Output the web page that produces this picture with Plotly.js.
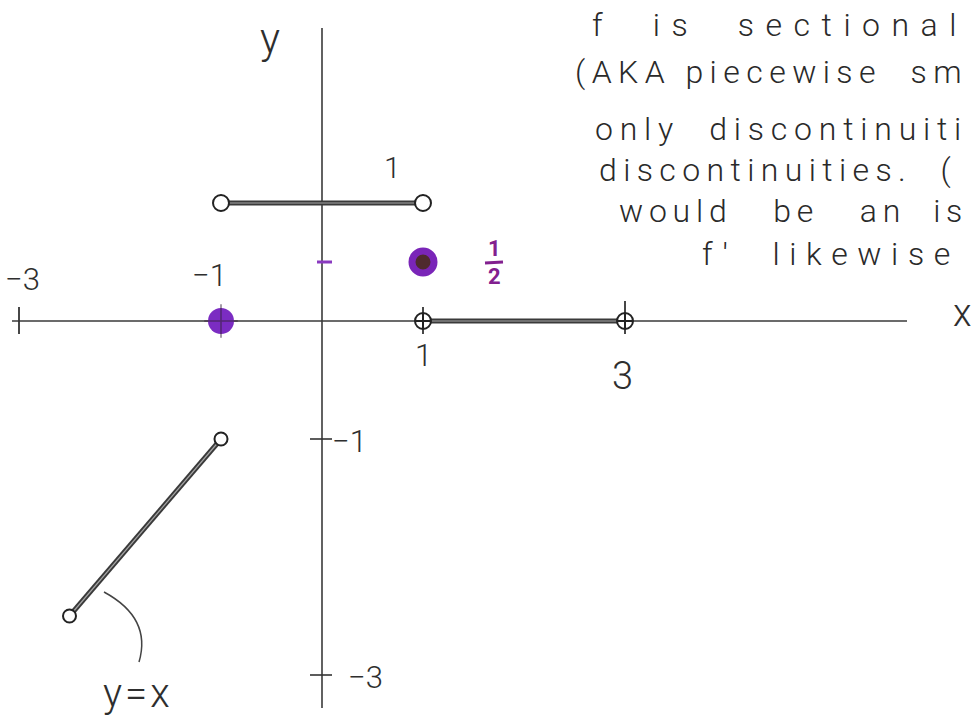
<!DOCTYPE html>
<html>
<head>
<meta charset="utf-8">
<script src="https://cdn.plot.ly/plotly-3.0.1.min.js"></script>
<style>
  html, body { margin: 0; padding: 0; background: #ffffff; }
  #chart { width: 975px; height: 723px; }
</style>
</head>
<body>
<div id="chart"></div>
<script>
// Piecewise function f: three line pieces and two isolated points.
const pieceTopX = [-1, 1];        // f = 1 on (-1, 1)
const pieceTopY = [1, 1];
const pieceRightX = [1, 3];       // f = 0 on (1, 3)
const pieceRightY = [0, 0];
const pieceLeftX = [-2.5, -1];    // f = x on (-2.5, -1)
const pieceLeftY = [-2.5, -1];
const dotX = [-1, 1];             // isolated values f(-1) = 0, f(1) = 1/2
const dotY = [0, 0.5];

const xTickVals = [-3, -1, 1, 3];
const xTickText = ['−3', '−1', '1', '3'];
const yTickVals = [-1, -3];
const yTickText = ['−1', '−3'];

const noteLines = [
  'f\u00a0\u00a0is\u00a0\u00a0sectional',
  '(AKA\u00a0piecewise\u00a0\u00a0sm',
  'only\u00a0\u00a0discontinuiti',
  'discontinuities.\u00a0\u00a0(',
  'would\u00a0\u00a0\u00a0be\u00a0\u00a0\u00a0an\u00a0\u00a0is',
  "f'\u00a0\u00a0likewise"
];

// pixel geometry of the drawing
const W = 975, H = 723;
const X0 = 322, SX = 101;   // pixel column of x = 0, pixels per unit
const Y0 = 321, SY = 118;   // pixel row of y = 0, pixels per unit

const INK = '#2e2e2e';
const PURPLE = '#7a25b8';
const FONT = 'Roboto, "Open Sans", "DejaVu Sans", sans-serif';
const NOTE_SIZE = 32;

// letter spacing that stretches a line of the note to a given width
const measurer = document.createElement('canvas').getContext('2d');
measurer.font = '300 ' + NOTE_SIZE + 'px Roboto';
function spreadTo(t, width) {
  const ls = Math.max(0, (width - measurer.measureText(t).width) / t.length);
  return '<span style="letter-spacing:' + ls.toFixed(2) + 'px">' + t + '</span>';
}

function pencil(xs, ys) {
  return [
    { x: xs, y: ys, mode: 'lines', line: { color: '#3a3a3a', width: 5 }, hoverinfo: 'skip' },
    { x: xs, y: ys, mode: 'lines', line: { color: '#a5a5a5', width: 1.2 }, hoverinfo: 'skip' }
  ];
}

function ends(xs, ys, symbol, size) {
  return {
    x: xs, y: ys, mode: 'markers', hoverinfo: 'skip',
    marker: { symbol: symbol, size: size, color: '#ffffff', line: { color: '#222222', width: 2 } }
  };
}

const traces = [
  ...pencil(pieceTopX, pieceTopY),
  ...pencil(pieceRightX, pieceRightY),
  ...pencil(pieceLeftX, pieceLeftY),
  ends(pieceTopX, pieceTopY, 'circle', 16),
  ends(pieceRightX, pieceRightY, 'circle-cross', 16),
  ends(pieceLeftX, pieceLeftY, 'circle', 13),
  {
    x: [dotX[0]], y: [dotY[0]], mode: 'markers', hoverinfo: 'skip',
    marker: { size: 26, color: '#7b2cc2', line: { width: 0 } }
  },
  {
    x: [dotX[0]], y: [dotY[0]], mode: 'markers', hoverinfo: 'skip',
    marker: { symbol: 'cross-thin-open', size: 24, color: 'rgba(55,35,60,0.6)',
              line: { color: 'rgba(55,35,60,0.6)', width: 1.5 } }
  },
  {
    x: [dotX[1]], y: [dotY[1]], mode: 'markers', hoverinfo: 'skip',
    marker: { size: 22, color: '#4f2a2e', line: { color: PURPLE, width: 7 } }
  }
];

const shapes = [];
// axes, drawn as pencil strokes under the marks
shapes.push({ type: 'line', layer: 'below', xref: 'x', yref: 'y',
  x0: (12 - X0) / SX, x1: (907 - X0) / SX, y0: 0, y1: 0,
  line: { color: '#3a3a3a', width: 1.6 } });
shapes.push({ type: 'line', layer: 'below', xref: 'x', yref: 'y',
  x0: 0, x1: 0, y0: (Y0 - 28) / SY, y1: -3.28,
  line: { color: '#3a3a3a', width: 1.6 } });
// tick marks
xTickVals.forEach(v => {
  if (v === -1) return;
  shapes.push({ type: 'line', layer: 'below', xref: 'x', yref: 'y', ysizemode: 'pixel', yanchor: 0,
    x0: v, x1: v, y0: -13, y1: v === 3 ? 20 : 14, line: { color: '#333333', width: 1.8 } });
});
yTickVals.forEach(v => {
  shapes.push({ type: 'line', layer: 'below', xref: 'x', yref: 'y', xsizemode: 'pixel', xanchor: 0,
    x0: -12, x1: 10, y0: v, y1: v, line: { color: '#333333', width: 1.6 } });
});
// purple mark for y = 1/2 on the vertical axis
shapes.push({ type: 'line', layer: 'above', xref: 'x', yref: 'y', xsizemode: 'pixel', xanchor: 0,
  x0: -5, x1: 10, y0: dotY[1], y1: dotY[1], line: { color: '#8a3ac0', width: 3 } });
// fraction bar of the 1/2 label
shapes.push({ type: 'line', layer: 'above', xref: 'x', yref: 'y',
  xsizemode: 'pixel', xanchor: dotX[1], ysizemode: 'pixel', yanchor: dotY[1],
  x0: 62, x1: 80, y0: -1, y1: 0, line: { color: '#82208f', width: 3 } });
// curved pointer from the y = x label to its piece
shapes.push({ type: 'path', layer: 'below', xref: 'x', yref: 'y',
  path: 'M ' + (104 - X0) / SX + ',' + (Y0 - 592) / SY +
        ' Q ' + (152 - X0) / SX + ',' + (Y0 - 618) / SY +
        ' ' + (139 - X0) / SX + ',' + (Y0 - 662) / SY,
  line: { color: '#444444', width: 1.5 } });

const hand = (size, color) => ({ family: FONT, size: size, color: color || INK, weight: 300 });

const annotations = [];
// tick labels
const xShift = { '-3': [3, 42], '-1': [-12, 46], '1': [0, -34], '3': [-3, -55] };
xTickVals.forEach((v, i) => {
  annotations.push({ x: v, y: 0, xref: 'x', yref: 'y', text: xTickText[i], showarrow: false,
    xshift: xShift[String(v)][0], yshift: xShift[String(v)][1], font: hand(v === 3 ? 38 : 31) });
});
yTickVals.forEach((v, i) => {
  annotations.push({ x: 0, y: v, xref: 'x', yref: 'y', text: yTickText[i], showarrow: false,
    xshift: v === -1 ? 27 : 43, yshift: -2, font: hand(31) });
});
// piece and point labels
annotations.push({ x: 0.7, y: pieceTopY[0], xref: 'x', yref: 'y', text: '1', showarrow: false,
  yshift: 36, font: hand(30) });
annotations.push({ x: dotX[1], y: dotY[1], xref: 'x', yref: 'y', text: '1', showarrow: false,
  xshift: 71, yshift: 14, font: { family: FONT, size: 22, color: '#82208f', weight: 700 } });
annotations.push({ x: dotX[1], y: dotY[1], xref: 'x', yref: 'y', text: '2', showarrow: false,
  xshift: 71, yshift: -14, font: { family: FONT, size: 22, color: '#82208f', weight: 700 } });
annotations.push({ x: -1.82, y: -3.16, xref: 'x', yref: 'y',
  text: '<span style="letter-spacing:3px">y=x</span>', showarrow: false, font: hand(40) });
// axis names
annotations.push({ x: 0, y: (Y0 - 38) / SY, xref: 'x', yref: 'y', text: 'y', showarrow: false,
  xshift: -52, font: hand(42) });
annotations.push({ x: (962 - X0) / SX, y: 0, xref: 'x', yref: 'y', text: 'x', showarrow: false,
  yshift: 8, font: hand(38) });
// written note in the upper right
const noteBase = [36, 83, 140, 181, 222, 265];
const noteLeft = [590, 573, 593, 597, 617, 700];
const noteRight = [966, 966, 966, 955, 966, 958];
noteLines.forEach((t, i) => {
  annotations.push({ xref: 'paper', yref: 'paper', x: noteLeft[i] / W, y: 1 - (noteBase[i] - 11) / H,
    xanchor: 'left', yanchor: 'middle', showarrow: false,
    text: spreadTo(t, noteRight[i] - noteLeft[i]), font: hand(NOTE_SIZE, '#2a2a2a') });
});

const layout = {
  width: W, height: H,
  margin: { l: 0, r: 0, t: 0, b: 0 },
  paper_bgcolor: '#ffffff', plot_bgcolor: '#ffffff',
  showlegend: false,
  xaxis: { range: [-X0 / SX, (W - X0) / SX], visible: false, fixedrange: true },
  yaxis: { range: [(Y0 - H) / SY, Y0 / SY], visible: false, fixedrange: true },
  shapes: shapes,
  annotations: annotations
};

Plotly.newPlot('chart', traces, layout, { staticPlot: true, displayModeBar: false });
</script>
</body>
</html>
